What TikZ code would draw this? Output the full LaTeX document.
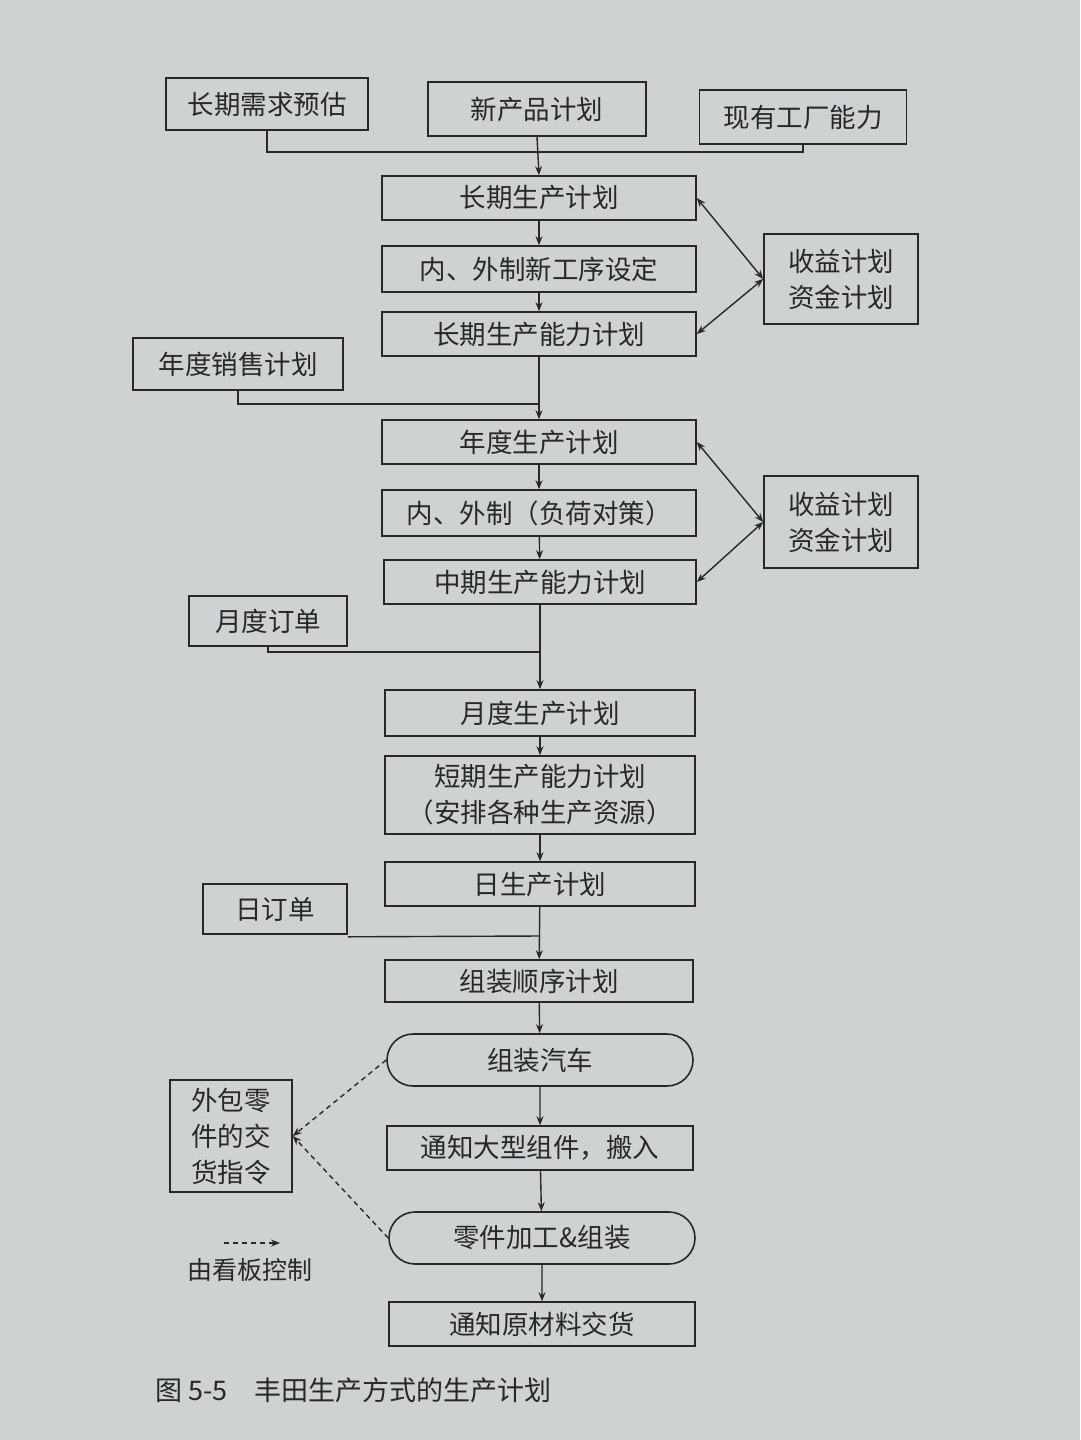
\documentclass[tikz,border=0pt]{standalone}
\usepackage{fontspec}
\newfontfamily\cjk{Noto Sans CJK SC}
\usetikzlibrary{arrows.meta,shapes.misc}
\definecolor{paper}{RGB}{206,210,210}
\definecolor{ink}{RGB}{40,40,40}
\tikzset{
 box/.style={draw=ink,line width=1.6pt,fill=paper,inner sep=0pt,align=center,font=\cjk\fontsize{26.5}{36}\selectfont,text=ink},
 rbox/.style={box,rounded rectangle},
 ln/.style={draw=ink,line width=1.4pt},
 ar/.style={ln,-{Stealth[length=9pt,width=7pt]}},
 dar/.style={ar,<->,{Stealth[length=9pt,width=7pt]}-{Stealth[length=9pt,width=7pt]}},
 das/.style={ar,dashed,dash pattern=on 5pt off 4pt}
}
\begin{document}
\begin{tikzpicture}[x=1pt,y=-1pt]
\fill[paper] (0,0) rectangle (1080,1440);
\useasboundingbox (0,0) rectangle (1080,1440);
\node[box,minimum width=202pt,minimum height=52pt] (a1) at (267,104) {长期需求预估};
\node[box,minimum width=218pt,minimum height=54pt] (a2) at (537,109) {新产品计划};
\node[box,minimum width=207pt,minimum height=54pt] (a3) at (803,117) {现有工厂能力};
\node[box,minimum width=314pt,minimum height=44pt] (b1) at (539,198) {长期生产计划};
\node[box,minimum width=314pt,minimum height=46pt] (b2) at (539,269) {内、外制新工序设定};
\node[box,minimum width=314pt,minimum height=44pt] (b3) at (539,334) {长期生产能力计划};
\node[box,minimum width=154pt,minimum height=90pt] (s1) at (841,279) {收益计划\\资金计划};
\node[box,minimum width=210pt,minimum height=52pt] (c0) at (238,364) {年度销售计划};
\node[box,minimum width=314pt,minimum height=44pt] (c1) at (539,442) {年度生产计划};
\node[box,minimum width=314pt,minimum height=46pt] (c2) at (539,513) {内、外制（负荷对策）};
\node[box,minimum width=312pt,minimum height=44pt] (c3) at (540,582) {中期生产能力计划};
\node[box,minimum width=154pt,minimum height=92pt] (s2) at (841,522) {收益计划\\资金计划};
\node[box,minimum width=158pt,minimum height=50pt] (d0) at (268,621) {月度订单};
\node[box,minimum width=310pt,minimum height=46pt] (d1) at (540,713) {月度生产计划};
\node[box,minimum width=310pt,minimum height=78pt] (d2) at (540,795) {短期生产能力计划\\（安排各种生产资源）};
\node[box,minimum width=310pt,minimum height=44pt] (d3) at (540,884) {日生产计划};
\node[box,minimum width=144pt,minimum height=50pt] (e0) at (275,909) {日订单};
\node[box,minimum width=308pt,minimum height=42pt] (e1) at (539,981) {组装顺序计划};
\node[rbox,minimum width=306pt,minimum height=52pt] (e2) at (540,1060) {组装汽车};
\node[box,minimum width=122pt,minimum height=112pt] (o) at (231,1136) {外包零\\件的交\\货指令};
\node[box,minimum width=306pt,minimum height=44pt] (e3) at (540,1148) {通知大型组件，搬入};
\node[rbox,minimum width=306pt,minimum height=52pt] (e4) at (542,1238) {零件加工\&组装};
\node[box,minimum width=306pt,minimum height=44pt] (e5) at (542,1324) {通知原材料交货};
\coordinate (m1) at (540,152);
\draw[ln] (a1.south) |- (m1);
\draw[ln] (a3.south) |- (m1);
\draw[ar] (a2.south) -- (b1.north);
\draw[ar] (b1) -- (b2);
\draw[ar] (b2) -- (b3);
\draw[dar] (b1.east) -- (s1.west);
\draw[dar] (b3.east) -- (s1.west);
\coordinate (m2) at (540,404);
\draw[ln] (c0.south) |- (m2);
\draw[ar] (b3.south) -- (c1.north);
\draw[ar] (c1) -- (c2);
\draw[ar] (c2) -- (c3);
\draw[dar] (c1.east) -- (s2.west);
\draw[dar] (c3.east) -- (s2.west);
\coordinate (m3) at (540,652);
\draw[ln] (d0.south) |- (m3);
\draw[ar] (c3.south) -- (d1.north);
\draw[ar] (d1) -- (d2);
\draw[ar] (d2) -- (d3);
\coordinate (m4) at (540,936);
\draw[ln] (e0.south east) ++(0,2) -- (m4);
\draw[ar] (d3) -- (e1);
\draw[ar] (e1) -- (e2);
\draw[ar] (e2) -- (e3);
\draw[ar] (e3) -- (e4);
\draw[ar] (e4) -- (e5);
\draw[das] (e2.west) -- (o.east);
\draw[das] (e4.west) -- (o.east);
\coordinate (l1) at (224,1243);
\coordinate (l2) at (280,1243);
\draw[das] (l1) -- (l2);
\node[font=\cjk\fontsize{25}{28}\selectfont,text=ink] (lg) at (250,1270) {由看板控制};
\node[font=\cjk\fontsize{27}{30}\selectfont,text=ink,anchor=west] (cap) at (152,1390) {图 5-5\quad 丰田生产方式的生产计划};
\end{tikzpicture}
\end{document}
